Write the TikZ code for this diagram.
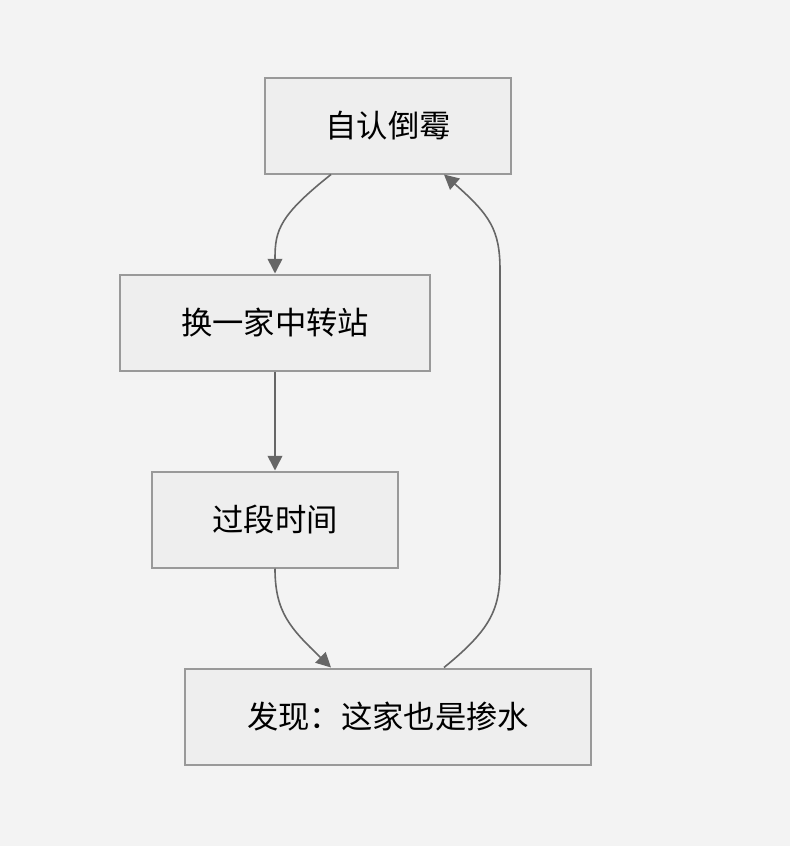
\documentclass[tikz,border=0pt]{standalone}
\usepackage{fontspec}
\setmainfont{Noto Sans CJK SC}
\usetikzlibrary{positioning,arrows.meta}
\definecolor{bgcol}{HTML}{F3F3F3}
\definecolor{boxfill}{HTML}{EEEEEE}
\definecolor{boxline}{HTML}{999999}
\definecolor{linkcol}{HTML}{666666}

\begin{document}
\begin{tikzpicture}[x=0.75pt,y=-0.75pt,
  stepbox/.style={draw=boxline,fill=boxfill,line width=1.5pt,minimum height=72pt,font=\fontsize{23.5pt}{27pt}\selectfont,inner sep=0pt},
  link/.style={draw=linkcol,line width=1.2pt,-{Triangle[length=11pt,width=11pt]}}]
\fill[bgcol] (0,0) rectangle (790,846);
\useasboundingbox (0,0) rectangle (790,846);
\node[stepbox,minimum width=185pt] (zr) at (388,125.5) {自认倒霉};
\node[stepbox,minimum width=233pt] (hj) at (275,322.5) {换一家中转站};
\node[stepbox,minimum width=185pt] (gd) at (275,519.5) {过段时间};
\node[stepbox,minimum width=305pt] (fx) at (388,716.5) {发现：这家也是掺水};
% links
\draw[link] ([xshift=-42.75pt]zr.south) .. controls (280,215) and (275,230) .. (275,258) -- (hj.north);
\draw[link] (hj) -- (gd);
\draw[link] (gd.south) .. controls (275,612) and (290,628) .. ([xshift=-42.75pt]fx.north);
\draw[link] ([xshift=42pt]fx.north) .. controls (490,630) and (500,610) .. (500,570) -- (500,270) .. controls (500,230) and (490,215) .. ([xshift=42pt]zr.south);
\end{tikzpicture}
\end{document}
